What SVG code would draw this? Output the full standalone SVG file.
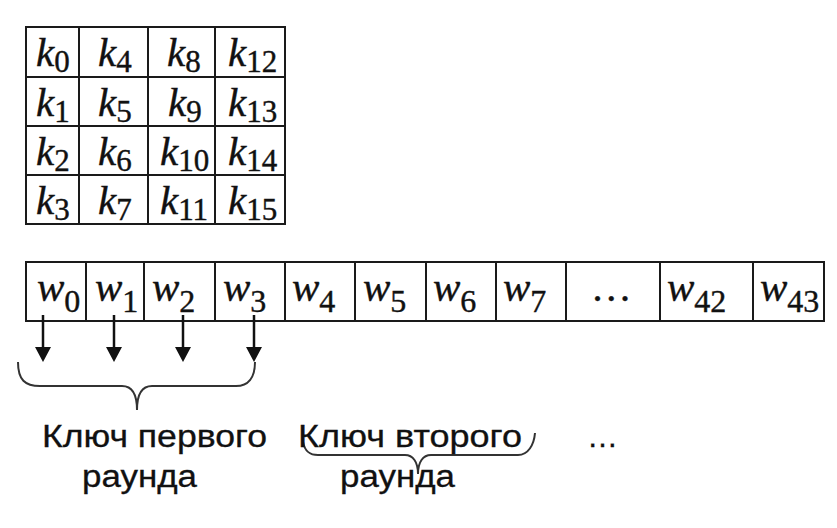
<svg xmlns="http://www.w3.org/2000/svg" width="837" height="528" viewBox="0 0 837 528">
<defs>
<style>
.grid{fill:none;stroke:#1a1a1a;stroke-width:2}
.m{font-family:"Liberation Serif","Times New Roman",serif;font-style:italic;font-size:41px;fill:#111;stroke:#111;stroke-width:0.4}
.s{font-style:normal;font-size:31px}
.ws{font-style:normal;font-size:32px}
.lbl{font-family:"Liberation Sans",Arial,sans-serif;font-size:31px;fill:#111;stroke:#111;stroke-width:0.3}
.arr{stroke:#111;stroke-width:2.5;fill:none}
.head{fill:#111}
.brace{fill:none;stroke:#333;stroke-width:2}
</style>
</defs>
<rect width="837" height="528" fill="#fff"/>

<g id="key-matrix">
<rect class="grid" x="26" y="27" width="259" height="197"/>
<path class="grid" d="M26,77H285M26,126H285M26,175H285M79,27V224M148,27V224M215,27V224"/>
<text class="m" x="36" y="66">k<tspan class="s" dy="6">0</tspan></text>
<text class="m" x="98" y="66">k<tspan class="s" dy="6">4</tspan></text>
<text class="m" x="167" y="66">k<tspan class="s" dy="6">8</tspan></text>
<text class="m" x="228" y="66">k<tspan class="s" dy="6">12</tspan></text>
<text class="m" x="36" y="116">k<tspan class="s" dy="6">1</tspan></text>
<text class="m" x="98" y="116">k<tspan class="s" dy="6">5</tspan></text>
<text class="m" x="168" y="116">k<tspan class="s" dy="6">9</tspan></text>
<text class="m" x="228" y="116">k<tspan class="s" dy="6">13</tspan></text>
<text class="m" x="36" y="165">k<tspan class="s" dy="6">2</tspan></text>
<text class="m" x="98" y="165">k<tspan class="s" dy="6">6</tspan></text>
<text class="m" x="160" y="165">k<tspan class="s" dy="6">10</tspan></text>
<text class="m" x="228" y="165">k<tspan class="s" dy="6">14</tspan></text>
<text class="m" x="36" y="214">k<tspan class="s" dy="6">3</tspan></text>
<text class="m" x="98" y="214">k<tspan class="s" dy="6">7</tspan></text>
<text class="m" x="160" y="214">k<tspan class="s" dy="6">11</tspan></text>
<text class="m" x="228" y="214">k<tspan class="s" dy="6">15</tspan></text>
</g>

<g id="word-row">
<rect class="grid" x="26" y="262" width="798" height="59"/>
<path class="grid" d="M86,262V321M144,262V321M215,262V321M285,262V321M355,262V321M426,262V321M496,262V321M566,262V321M660,262V321M753,262V321"/>
<text class="m" x="37" y="301">w<tspan class="ws" dy="11">0</tspan></text>
<text class="m" x="95" y="301">w<tspan class="ws" dy="11">1</tspan></text>
<text class="m" x="152" y="301">w<tspan class="ws" dy="11">2</tspan></text>
<text class="m" x="223" y="301">w<tspan class="ws" dy="11">3</tspan></text>
<text class="m" x="292" y="301">w<tspan class="ws" dy="11">4</tspan></text>
<text class="m" x="363" y="301">w<tspan class="ws" dy="11">5</tspan></text>
<text class="m" x="433" y="301">w<tspan class="ws" dy="11">6</tspan></text>
<text class="m" x="503" y="301">w<tspan class="ws" dy="11">7</tspan></text>
<text class="m" x="612" y="301" text-anchor="middle" font-style="normal">…</text>
<text class="m" x="667" y="301">w<tspan class="ws" dy="11">42</tspan></text>
<text class="m" x="760" y="301">w<tspan class="ws" dy="11">43</tspan></text>
</g>

<g id="connectors">
<line class="arr" x1="43" y1="315" x2="43" y2="348"/>
<polygon class="head" points="35,347 51,347 43,362"/>
<line class="arr" x1="114" y1="315" x2="114" y2="348"/>
<polygon class="head" points="106,347 122,347 114,362"/>
<line class="arr" x1="183" y1="315" x2="183" y2="348"/>
<polygon class="head" points="175,347 191,347 183,362"/>
<line class="arr" x1="254" y1="315" x2="254" y2="348"/>
<polygon class="head" points="246,347 262,347 254,362"/>
<path class="brace" d="M18,362 C18,380 25,386 40,386 L122,386 C132,386 137,395 137,410 C137,395 142,386 152,386 L236,386 C248,386 255,378 255,362"/>
<path class="brace" d="M303,442 C305,452 310,455 318,455 L405,455 C413,455 418,462 418,474 C418,462 423,455 431,455 L518,455 C528,455 534,445 535,433"/>
</g>

<g id="labels">
<text class="lbl" x="42" y="447" textLength="225" lengthAdjust="spacingAndGlyphs">Ключ первого</text>
<text class="lbl" x="82" y="487" textLength="115" lengthAdjust="spacingAndGlyphs">раунда</text>
<text class="lbl" x="298" y="447" textLength="224" lengthAdjust="spacingAndGlyphs">Ключ второго</text>
<text class="lbl" x="340" y="487" textLength="115" lengthAdjust="spacingAndGlyphs">раунда</text>
<text class="lbl" x="587" y="447">…</text>
</g>
</svg>
